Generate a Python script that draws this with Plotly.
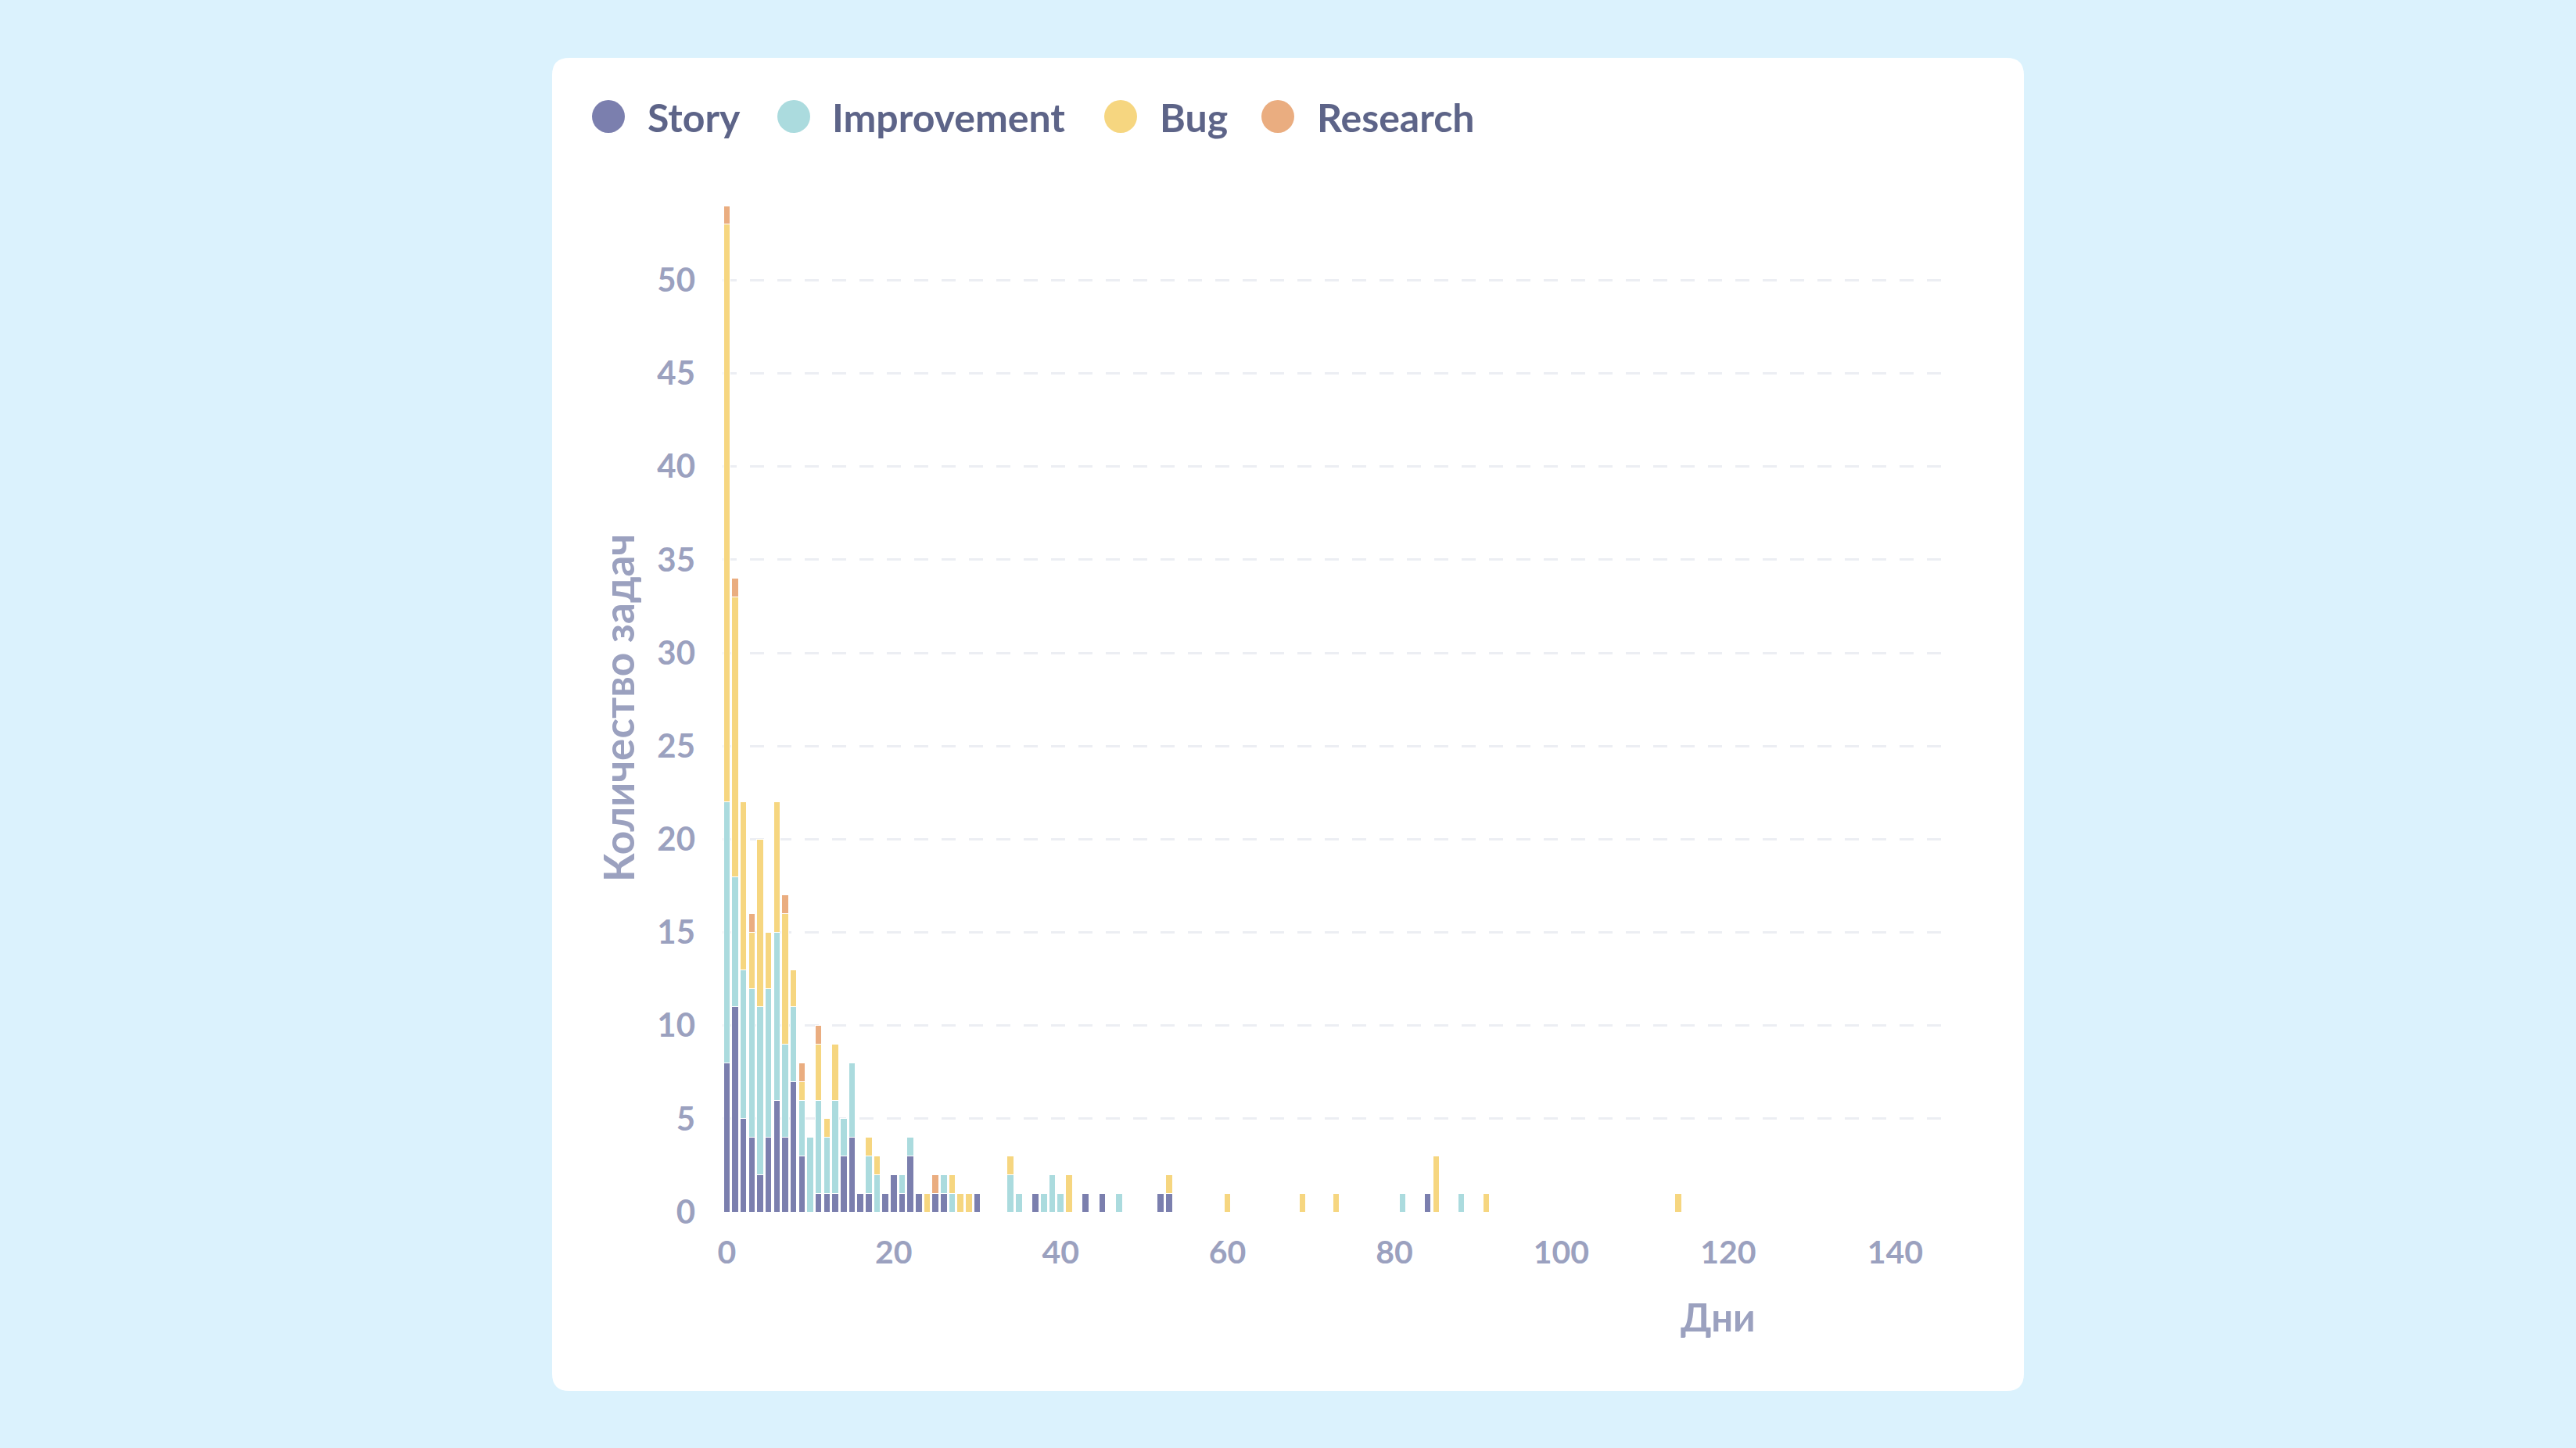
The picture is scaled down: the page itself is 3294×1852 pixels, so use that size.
import plotly.graph_objects as go

# ---------------- data ----------------
days = [0, 1, 2, 3, 4, 5, 6, 7, 8, 9, 10, 11, 12, 13, 14, 15, 16, 17, 18, 19,
        20, 21, 22, 23, 24, 25, 26, 27, 28, 29, 30, 34, 35, 37, 38, 39, 40, 41,
        43, 45, 47, 52, 53, 60, 69, 73, 81, 84, 85, 88, 91, 114]
story = [8, 11, 5, 4, 2, 4, 6, 4, 7, 3, 0, 1, 1, 1, 3, 4, 1, 1, 0, 1,
         2, 1, 3, 1, 0, 1, 1, 0, 0, 0, 1, 0, 0, 1, 0, 0, 0, 0,
         1, 1, 0, 1, 1, 0, 0, 0, 0, 1, 0, 0, 0, 0]
improvement = [14, 7, 8, 8, 9, 8, 9, 5, 4, 3, 4, 5, 3, 5, 2, 4, 0, 2, 2, 0,
               0, 1, 1, 0, 0, 0, 1, 1, 0, 0, 0, 2, 1, 0, 1, 2, 1, 0,
               0, 0, 1, 0, 0, 0, 0, 0, 1, 0, 0, 1, 0, 0]
bug = [31, 15, 9, 3, 9, 3, 7, 7, 2, 1, 0, 3, 1, 3, 0, 0, 0, 1, 1, 0,
       0, 0, 0, 0, 1, 0, 0, 1, 1, 1, 0, 1, 0, 0, 0, 0, 0, 2,
       0, 0, 0, 0, 1, 1, 1, 1, 0, 0, 3, 0, 1, 1]
research = [1, 1, 0, 1, 0, 0, 0, 1, 0, 1, 0, 1, 0, 0, 0, 0, 0, 0, 0, 0,
            0, 0, 0, 0, 0, 1, 0, 0, 0, 0, 0, 0, 0, 0, 0, 0, 0, 0,
            0, 0, 0, 0, 0, 0, 0, 0, 0, 0, 0, 0, 0, 0]

series_names = ["Story", "Improvement", "Bug", "Research"]
series_values = [story, improvement, bug, research]
series_colors = ["#7b7fae", "#abdbde", "#f6d680", "#eaad80"]

x_ticks = [0, 20, 40, 60, 80, 100, 120, 140]
y_ticks = [0, 5, 10, 15, 20, 25, 30, 35, 40, 45, 50]
x_title = "Дни"
y_title = "Количество задач"

# ---------------- layout geometry ----------------
W, H = 3294, 1852
L, R, T, B = 924, 2482, 263, 1550
FONT = "Lato, 'Open Sans', 'DejaVu Sans', sans-serif"
TICK_COLOR = "#9ba1bf"
LEGEND_COLOR = "#5d6488"


def px_x(x):
    return (x - L) / (R - L)


def px_y(y):
    return (B - y) / (B - T)


fig = go.Figure()
for name, vals, col in zip(series_names, series_values, series_colors):
    fig.add_trace(go.Bar(
        x=days,
        y=[v if v else None for v in vals],
        name=name,
        marker=dict(color=col, line=dict(color="white", width=1)),
        showlegend=False,
    ))

# white rounded card
cx0, cx1 = px_x(706), px_x(2588)
cyt, cyb = px_y(74), px_y(1779)
rx, ry = 22 / (R - L), 22 / (B - T)
card_path = (
    f"M {cx0 + rx},{cyt} L {cx1 - rx},{cyt} Q {cx1},{cyt} {cx1},{cyt - ry} "
    f"L {cx1},{cyb + ry} Q {cx1},{cyb} {cx1 - rx},{cyb} "
    f"L {cx0 + rx},{cyb} Q {cx0},{cyb} {cx0},{cyb + ry} "
    f"L {cx0},{cyt - ry} Q {cx0},{cyt} {cx0 + rx},{cyt} Z"
)
shapes = [dict(type="path", path=card_path, xref="paper", yref="paper",
               fillcolor="white", line=dict(width=0), layer="below")]

# custom legend (large circles)
legend_marker_x = [778, 1015, 1433, 1634]
legend_text_x = [826, 1062, 1481, 1682]
legend_y = 149
annotations = []
for name, col, mx, tx in zip(series_names, series_colors, legend_marker_x, legend_text_x):
    shapes.append(dict(type="circle", xref="paper", yref="paper",
                       xsizemode="pixel", ysizemode="pixel",
                       xanchor=px_x(mx), yanchor=px_y(legend_y),
                       x0=-21, x1=21, y0=-21, y1=21,
                       fillcolor=col, line=dict(width=0), layer="above"))
    annotations.append(dict(text=name, x=px_x(tx), y=px_y(legend_y + 1),
                            xref="paper", yref="paper", xanchor="left",
                            yanchor="middle", showarrow=False,
                            font=dict(family=FONT, size=50, color=LEGEND_COLOR,
                                      weight=700)))

annotations.append(dict(text=y_title, x=px_x(790), y=px_y(906), xref="paper",
                        yref="paper", xanchor="center", yanchor="middle",
                        textangle=-90, showarrow=False,
                        font=dict(family=FONT, size=53, color=TICK_COLOR, weight=700)))
annotations.append(dict(text=x_title, x=px_x(2197), y=px_y(1684), xref="paper",
                        yref="paper", xanchor="center", yanchor="middle",
                        showarrow=False,
                        font=dict(family=FONT, size=49, color=TICK_COLOR, weight=700)))

fig.update_layout(
    width=W, height=H,
    margin=dict(l=L, r=W - R, t=T, b=H - B, pad=0),
    paper_bgcolor="#dbf2fd",
    plot_bgcolor="rgba(0,0,0,0)",
    barmode="stack",
    bargap=0.2,
    shapes=shapes,
    annotations=annotations,
    showlegend=False,
    xaxis=dict(range=[-0.5, 145.5], tickmode="array", tickvals=x_ticks,
               showgrid=False, zeroline=False, showline=False, ticks="",
               ticklabelstandoff=24,
               tickfont=dict(family=FONT, size=41, color=TICK_COLOR, weight=700)),
    yaxis=dict(range=[0, 54], tickmode="array", tickvals=y_ticks,
               showgrid=True, gridcolor="#eceef3", gridwidth=3,
               griddash="18px,17px", zeroline=False, showline=False, ticks="",
               ticklabelstandoff=34,
               tickfont=dict(family=FONT, size=42, color=TICK_COLOR, weight=700)),
)

fig.write_html("out.html")
